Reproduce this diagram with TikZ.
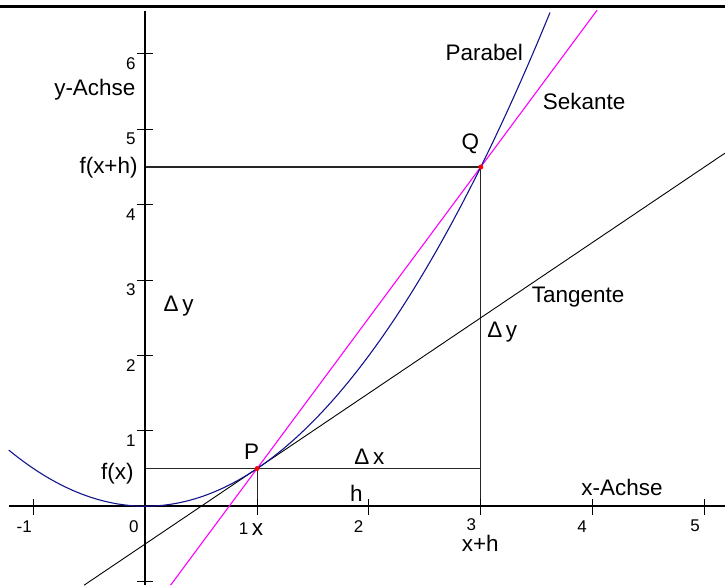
\documentclass[tikz,border=0pt]{standalone}
\usepackage{fontspec}
\setmainfont{Liberation Sans}
\definecolor{parabcol}{RGB}{20,20,140}
\definecolor{sekcol}{RGB}{255,0,255}
\begin{document}
\begin{tikzpicture}[x=112pt,y=75.5pt,
  axisline/.style={line width=2.2pt,black},
  borderline/.style={line width=3pt,black},
  tickmark/.style={line width=1pt,black},
  helper/.style={line width=1.1pt,black!85},
  parab/.style={line width=1.1pt,parabcol},
  sek/.style={line width=1.1pt,sekcol},
  tang/.style={line width=0.9pt,black},
  lbl/.style={font=\fontsize{22.5}{22.5}\selectfont,inner sep=0pt},
  num/.style={font=\fontsize{17}{17}\selectfont,inner sep=0pt},
  dot/.style={circle,fill=red,inner sep=0pt,minimum size=5pt}]
% pixel frame for bounding box and labels
\begin{scope}[shift={(-145.5pt,507pt)},x=1pt,y=-1pt]
  \useasboundingbox (0,0) rectangle (726,586);
  \coordinate (BL) at (0,6.5);
  \coordinate (BR) at (726,6.5);
  \draw[borderline] (BL) -- (BR);
\end{scope}
% geometry in data units
\coordinate (O) at (0,0);
\coordinate (XL) at (-1.219,0);
\coordinate (XR) at (5.183,0);
\coordinate (YB) at (0,-1.047);
\coordinate (YT) at (0,6.57);
\coordinate (P) at (1,0.5);
\coordinate (Q) at (3,4.5);
\coordinate (Px) at (1,0);
\coordinate (Qx) at (3,0);
\coordinate (Py) at (0,0.5);
\coordinate (Qy) at (0,4.5);
\coordinate (QP) at (3,0.5);
\coordinate (S1) at (0.2265,-1.047);
\coordinate (S2) at (4.04,6.58);
\coordinate (T1) at (-0.547,-1.047);
\coordinate (T2) at (5.183,4.683);
% helper lines
\draw[helper] (Qy) -- (Q) -- (Qx);
\draw[helper] (Py) -- (QP);
\draw[helper] (P) -- (Px);
% axes
\draw[axisline] (XL) -- (XR);
\draw[axisline] (YB) -- (YT);
\foreach \t in {-1,1,2,3,4,5} \draw[tickmark] ([yshift=7pt]\t,0) -- ([yshift=-9pt]\t,0);
\foreach \t in {-1,1,2,3,4,5,6} \draw[tickmark] ([xshift=-8pt]0,\t) -- ([xshift=8pt]0,\t);
% curves
\draw[tang] (T1) -- (T2);
\draw[sek] (S1) -- (S2);
\draw[parab] plot[domain=-1.22:3.62,samples=120] (\x,{\x*\x/2});
\node[dot] (Pdot) at (P) {};
\node[dot] (Qdot) at (Q) {};
% labels in pixel frame
\begin{scope}[shift={(-145.5pt,507pt)},x=1pt,y=-1pt]
  \node[num,anchor=east] (xm1) at (32,527) {-1};
  \node[num,anchor=east] (x0) at (139,527) {0};
  \node[num,anchor=east] (x1) at (249,529) {1};
  \node[num,anchor=east] (x2) at (364,527) {2};
  \node[num,anchor=east] (x3) at (477,525) {3};
  \node[num,anchor=east] (x4) at (588,527) {4};
  \node[num,anchor=east] (x5) at (701,527) {5};
  \node[num,anchor=east] (y1) at (136,441) {1};
  \node[num,anchor=east] (y2) at (136,366) {2};
  \node[num,anchor=east] (y3) at (136,290) {3};
  \node[num,anchor=east] (y4) at (136,215) {4};
  \node[num,anchor=east] (y5) at (136,139) {5};
  \node[num,anchor=east] (y6) at (136,64) {6};
  \node[lbl] (yachse) at (95,90) {y-Achse};
  \node[lbl,anchor=east] (fxh) at (138,168) {f(x+h)};
  \node[lbl,anchor=east] (fx) at (134,474) {f(x)};
  \node[lbl] (Plab) at (252,452) {P};
  \node[lbl] (Qlab) at (471,144) {Q};
  \node[lbl] (parlab) at (485,53) {Parabel};
  \node[lbl] (seklab) at (585,102) {Sekante};
  \node[lbl] (tanlab) at (579,298) {Tangente};
  \node[lbl] (dyl) at (179,307) {Δ\,y};
  \node[lbl] (dyr) at (503,333) {Δ\,y};
  \node[lbl] (dx) at (370,457) {Δ\,x};
  \node[lbl] (hlab) at (357,494) {h};
  \node[lbl] (xachse) at (623,488) {x-Achse};
  \node[lbl] (xlab) at (258,530) {x};
  \node[lbl] (xhlab) at (481,544) {x+h};
\end{scope}
\end{tikzpicture}
\end{document}
